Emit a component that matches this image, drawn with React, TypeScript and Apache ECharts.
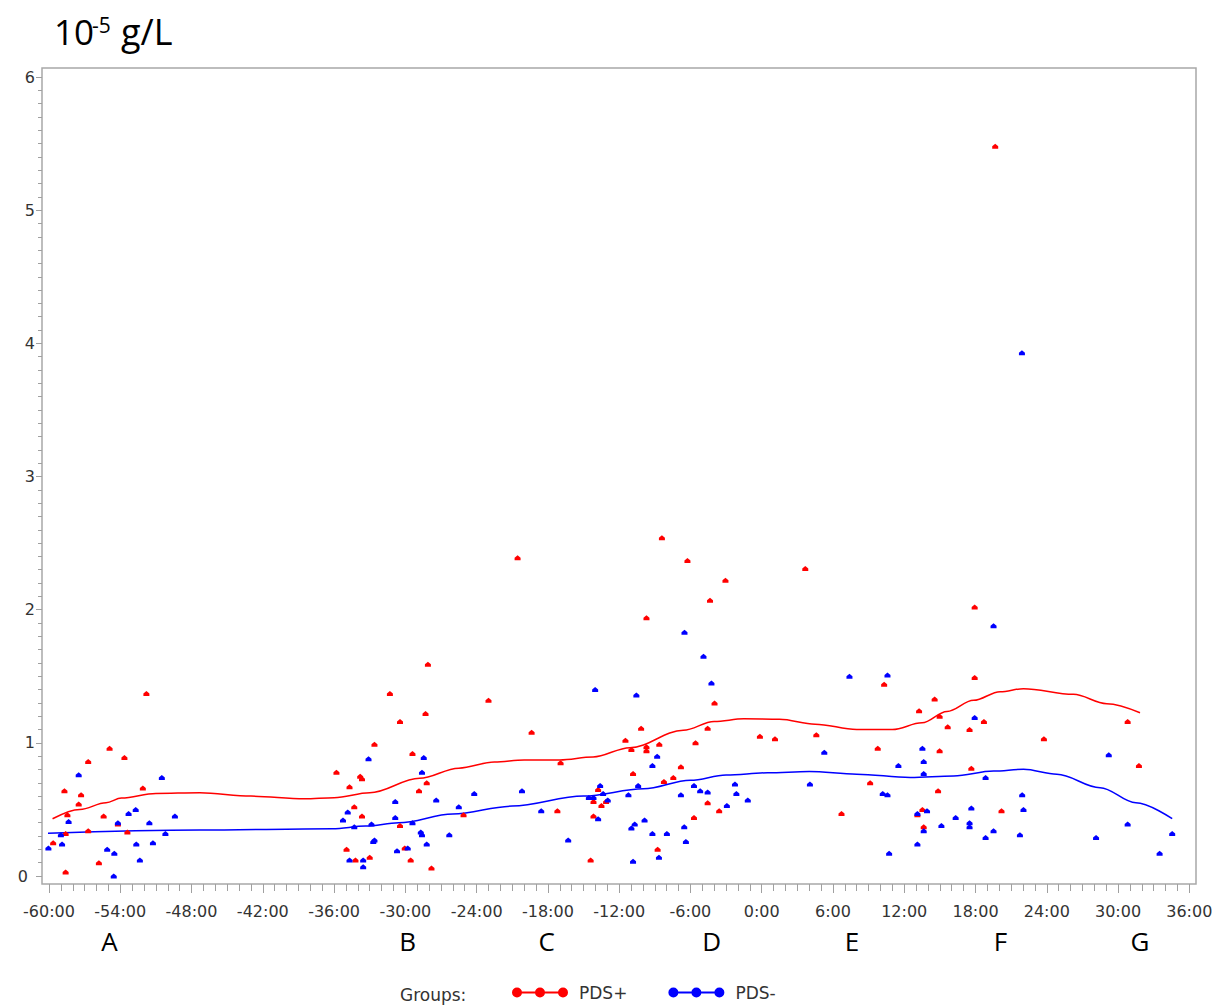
import React, { useEffect, useRef } from "react";
import * as echarts from "echarts";

// ---- Data (hours relative to event, concentration in 10^-5 g/L) ----
const pdsPlusPoints: number[][] = [
  [-51.8, 1.37], [-54.9, 0.96], [-53.65, 0.89], [-56.7, 0.86], [-58.7, 0.64], [-57.3, 0.61],
  [-57.5, 0.54], [-52.1, 0.66], [-58.45, 0.46], [-55.4, 0.45], [-54.2, 0.39], [-56.7, 0.34],
  [-58.6, 0.32], [-53.4, 0.33], [-59.65, 0.25], [-55.8, 0.1], [-58.6, 0.03],
  [-28.1, 1.59], [-31.3, 1.37], [-23.0, 1.32], [-28.3, 1.22], [-30.45, 1.16], [-32.6, 0.99],
  [-29.4, 0.92], [-35.8, 0.78], [-33.8, 0.75], [-33.65, 0.73], [-34.7, 0.67], [-28.2, 0.7],
  [-28.85, 0.64], [-34.3, 0.52], [-33.65, 0.45], [-25.1, 0.46], [-30.45, 0.38], [-34.95, 0.2],
  [-30.05, 0.21], [-33.0, 0.14], [-34.2, 0.12], [-29.55, 0.12], [-27.8, 0.06],
  [-8.4, 2.54], [-20.55, 2.39], [-6.25, 2.37], [-3.05, 2.22], [-4.35, 2.07], [-9.7, 1.94],
  [-3.97, 1.3], [-19.37, 1.08], [-10.15, 1.11], [-4.55, 1.11], [-11.47, 1.02], [-9.7, 0.97],
  [-8.62, 0.99], [-10.97, 0.95], [-9.7, 0.94], [-5.57, 1.0], [-0.15, 1.05], [-16.93, 0.85],
  [-10.83, 0.77], [-6.8, 0.82], [-8.23, 0.71], [-7.44, 0.74], [-13.77, 0.65], [-17.2, 0.49],
  [-14.16, 0.56], [-13.49, 0.53], [-13.1, 0.56], [-4.55, 0.55], [-3.58, 0.49], [-14.16, 0.45],
  [-5.7, 0.44], [-8.76, 0.2], [-14.4, 0.12],
  [3.67, 2.31], [17.93, 2.02], [17.93, 1.49], [10.31, 1.44], [14.56, 1.33], [13.25, 1.24],
  [14.98, 1.2], [18.71, 1.16], [15.66, 1.12], [17.5, 1.1], [1.12, 1.03], [4.6, 1.06],
  [23.76, 1.03], [9.77, 0.96], [14.98, 0.94], [17.65, 0.81], [9.13, 0.7], [14.85, 0.64],
  [13.53, 0.5], [13.11, 0.46], [20.19, 0.49], [6.72, 0.47], [13.64, 0.37], [19.66, 5.48],
  [30.81, 1.16], [31.76, 0.83],
];

const pdsMinusPoints: number[][] = [
  [-57.5, 0.76], [-50.5, 0.74], [-52.7, 0.5], [-53.3, 0.47], [-49.4, 0.45], [-58.35, 0.41],
  [-54.2, 0.4], [-51.55, 0.4], [-59.0, 0.31], [-50.2, 0.32], [-58.9, 0.24], [-52.65, 0.24],
  [-51.25, 0.25], [-60.05, 0.21], [-55.1, 0.2], [-54.5, 0.17], [-52.35, 0.12], [-54.55, 0.0],
  [-33.1, 0.88], [-28.45, 0.89], [-28.6, 0.78], [-30.85, 0.56], [-27.4, 0.57], [-24.2, 0.62],
  [-25.5, 0.52], [-34.85, 0.48], [-35.25, 0.42], [-30.85, 0.44], [-34.3, 0.37], [-32.85, 0.39],
  [-29.4, 0.4], [-28.7, 0.33], [-28.6, 0.31], [-26.3, 0.31], [-32.6, 0.27], [-32.7, 0.26],
  [-28.2, 0.24], [-30.7, 0.19], [-29.8, 0.21], [-34.7, 0.12], [-33.55, 0.12], [-33.55, 0.07],
  [-6.5, 1.83], [-4.9, 1.65], [-4.23, 1.45], [-14.02, 1.4], [-10.55, 1.36], [-8.8, 0.9],
  [-9.2, 0.83], [-2.25, 0.69], [-13.6, 0.68], [-10.4, 0.68], [-5.7, 0.68], [-5.18, 0.64],
  [-4.55, 0.63], [-2.13, 0.62], [-20.18, 0.64], [-13.35, 0.62], [-11.22, 0.61], [-6.8, 0.61],
  [-14.55, 0.59], [-14.16, 0.59], [-12.96, 0.57], [-1.17, 0.57], [-2.93, 0.53], [-18.56, 0.49],
  [-13.77, 0.43], [-9.86, 0.42], [-10.69, 0.39], [-10.97, 0.36], [-6.52, 0.37], [-9.2, 0.32],
  [-7.98, 0.32], [-6.38, 0.26], [-16.29, 0.27], [-8.65, 0.14], [-10.83, 0.11],
  [19.52, 1.88], [7.39, 1.5], [10.59, 1.51], [17.93, 1.19], [5.27, 0.93], [13.53, 0.96],
  [11.51, 0.83], [13.64, 0.86], [13.64, 0.77], [18.85, 0.74], [4.06, 0.69], [10.19, 0.62],
  [10.59, 0.61], [21.93, 0.61], [22.04, 0.5], [17.65, 0.51], [13.92, 0.49], [13.11, 0.47],
  [16.33, 0.44], [17.5, 0.4], [17.5, 0.37], [15.13, 0.38], [13.64, 0.34], [19.52, 0.34],
  [18.85, 0.29], [21.74, 0.31], [13.11, 0.24], [10.73, 0.17], [21.91, 3.93], [29.22, 0.91],
  [30.81, 0.39], [28.15, 0.29], [34.56, 0.32], [33.5, 0.17],
];

const pdsPlusCurve: number[][] = [
  [-59.7, 0.43], [-57.4, 0.5], [-55.2, 0.55], [-53.9, 0.585], [-51.0, 0.62], [-47.3, 0.625],
  [-43.0, 0.6], [-38.5, 0.58], [-36.0, 0.588], [-33.0, 0.625], [-28.8, 0.734],
  [-25.5, 0.81], [-22.5, 0.856], [-20.0, 0.872], [-17.0, 0.872], [-14.2, 0.894], [-11.1, 0.964],
  [-6.6, 1.094], [-4.0, 1.16], [-1.5, 1.18], [1.5, 1.177], [4.5, 1.14], [8.0, 1.1],
  [11.0, 1.1], [13.5, 1.15], [15.6, 1.235], [17.84, 1.319], [20.08, 1.384],
  [22.04, 1.407], [26.24, 1.364], [29.05, 1.294], [31.85, 1.226],
];

const pdsMinusCurve: number[][] = [
  [-60.15, 0.32], [-47.3, 0.345], [-36.15, 0.355], [-33.35, 0.375], [-30.55, 0.4], [-26.0, 0.465],
  [-21.0, 0.525], [-15.0, 0.6], [-9.95, 0.655], [-6.0, 0.719], [-3.0, 0.758],
  [0.5, 0.775], [4.0, 0.785], [8.0, 0.765], [12.5, 0.74], [16.16, 0.751], [19.52, 0.788],
  [22.04, 0.801], [24.85, 0.764], [28.49, 0.663], [31.5, 0.55], [34.56, 0.43],
];

const phaseLetters = ["A", "B", "C", "D", "E", "F", "G"];
const phaseHours = [-54.9, -29.8, -18.1, -4.2, 7.6, 20.1, 31.85];

const groupNames = ["PDS+", "PDS-"];

const pointSymbol = "path://M0,10 L0,5 L5,0 L10,5 L10,10 Z";
const dotLineIcon =
  "path://M0,5 A5,5 0 1 1 10,5 A5,5 0 1 1 0,5 Z M23,5 A5,5 0 1 1 33,5 A5,5 0 1 1 23,5 Z M46,5 A5,5 0 1 1 56,5 A5,5 0 1 1 46,5 Z M9,4 L24,4 L24,6 L9,6 Z M32,4 L47,4 L47,6 L32,6 Z";

const tickColor = "#a0a0a0";
const labelColor = "#333333";

export default function App() {
  const ref = useRef<HTMLDivElement>(null);

  useEffect(() => {
    if (!ref.current) return;
    const chart = echarts.init(ref.current, null, { renderer: "svg" });
    const option: any = {
      animation: false,
      backgroundColor: "#ffffff",
      grid: { left: 49, right: 29.7, top: 77, bottom: 131, outerBoundsMode: "none" },
      xAxis: [
        {
          type: "value",
          min: -60,
          max: 36,
          interval: 6,
          position: "bottom",
          offset: 8,
          axisLine: { show: false, onZero: false },
          splitLine: { show: false },
          axisTick: { show: true, length: 9, lineStyle: { color: tickColor } },
          minorTick: { show: true, splitNumber: 6, length: 7, lineStyle: { color: tickColor } },
          axisLabel: {
            margin: 19,
            fontFamily: "DejaVu Sans",
            fontSize: 16,
            color: labelColor,
            formatter: (v: number) => `${v}:00`,
          },
        },
        {
          type: "value",
          min: -60,
          max: 36,
          position: "bottom",
          offset: 0,
          axisLine: { show: false, onZero: false },
          axisTick: { show: false },
          splitLine: { show: false },
          axisLabel: {
            customValues: phaseHours,
            showMinLabel: true,
            showMaxLabel: true,
            margin: 65,
            verticalAlign: "middle",
            fontFamily: "Open Sans",
            fontSize: 26,
            color: "#000000",
            formatter: (v: number) => {
              const i = phaseHours.findIndex((h) => Math.abs(h - v) < 1e-6);
              return i >= 0 ? phaseLetters[i] : "";
            },
          },
        },
      ],
      yAxis: {
        type: "value",
        min: 0,
        max: 6,
        interval: 1,
        position: "left",
        offset: 7,
        axisLine: { show: false, onZero: false },
        splitLine: { show: false },
        axisTick: { show: true, length: 6, lineStyle: { color: tickColor } },
        minorTick: { show: true, splitNumber: 10, length: 4, lineStyle: { color: tickColor } },
        axisLabel: {
          margin: 7,
          fontFamily: "DejaVu Sans",
          fontSize: 16,
          color: labelColor,
          formatter: (v: number) => (v === 0 ? "{z|0}" : String(v)),
          rich: {
            z: { padding: [0, 7, 0, 0], fontFamily: "DejaVu Sans", fontSize: 16, color: labelColor },
          },
        },
      },
      legend: {
        data: groupNames.map((n) => ({ name: n, icon: dotLineIcon })),
        left: 512,
        top: 984,
        itemWidth: 56,
        itemHeight: 10,
        itemGap: 41,
        padding: 0,
        textStyle: { fontFamily: "DejaVu Sans", fontSize: 17, color: labelColor, padding: [0, 0, 0, 6] },
      },
      graphic: [
        {
          type: "rect",
          silent: true,
          z: 0,
          shape: { x: 42, y: 68, width: 1154, height: 816 },
          style: { fill: "none", stroke: "#a8a8a8", lineWidth: 1.5 },
        },
        {
          type: "text",
          x: 400,
          y: 995,
          style: { text: "Groups:", font: '17px "DejaVu Sans"', fill: labelColor, align: "left", verticalAlign: "middle" },
        },
        {
          type: "text",
          x: 54,
          y: 31,
          style: { text: "10", font: '35px "Open Sans"', fill: "#000", align: "left", verticalAlign: "middle" },
        },
        {
          type: "text",
          x: 92,
          y: 25,
          style: { text: "-5", font: '21px "Open Sans"', fill: "#000", align: "left", verticalAlign: "middle" },
        },
        {
          type: "text",
          x: 121,
          y: 31,
          style: { text: "g/L", font: '36px "Open Sans"', fill: "#000", align: "left", verticalAlign: "middle" },
        },
      ],
      series: [
        {
          name: "PDS+ fit",
          type: "line",
          data: pdsPlusCurve,
          smooth: 0.35,
          smoothMonotone: "x",
          showSymbol: false,
          clip: false,
          silent: true,
          lineStyle: { color: "#ff0000", width: 1.5 },
          z: 2,
        },
        {
          name: "PDS- fit",
          type: "line",
          data: pdsMinusCurve,
          smooth: 0.35,
          smoothMonotone: "x",
          showSymbol: false,
          clip: false,
          silent: true,
          lineStyle: { color: "#0000ff", width: 1.5 },
          z: 2,
        },
        {
          name: groupNames[0],
          type: "scatter",
          data: pdsPlusPoints,
          symbol: pointSymbol,
          symbolSize: [6, 5],
          clip: false,
          itemStyle: { color: "#ff0000", opacity: 1 },
          z: 3,
        },
        {
          name: groupNames[1],
          type: "scatter",
          data: pdsMinusPoints,
          symbol: pointSymbol,
          symbolSize: [6, 5],
          clip: false,
          itemStyle: { color: "#0000ff", opacity: 1 },
          z: 3,
        },
      ],
    };
    chart.setOption(option);
    return () => chart.dispose();
  }, []);

  return (
    <div
      ref={ref}
      style={{ position: "fixed", left: 0, top: 0, width: "1219px", height: "1007px", background: "#ffffff" }}
    />
  );
}
